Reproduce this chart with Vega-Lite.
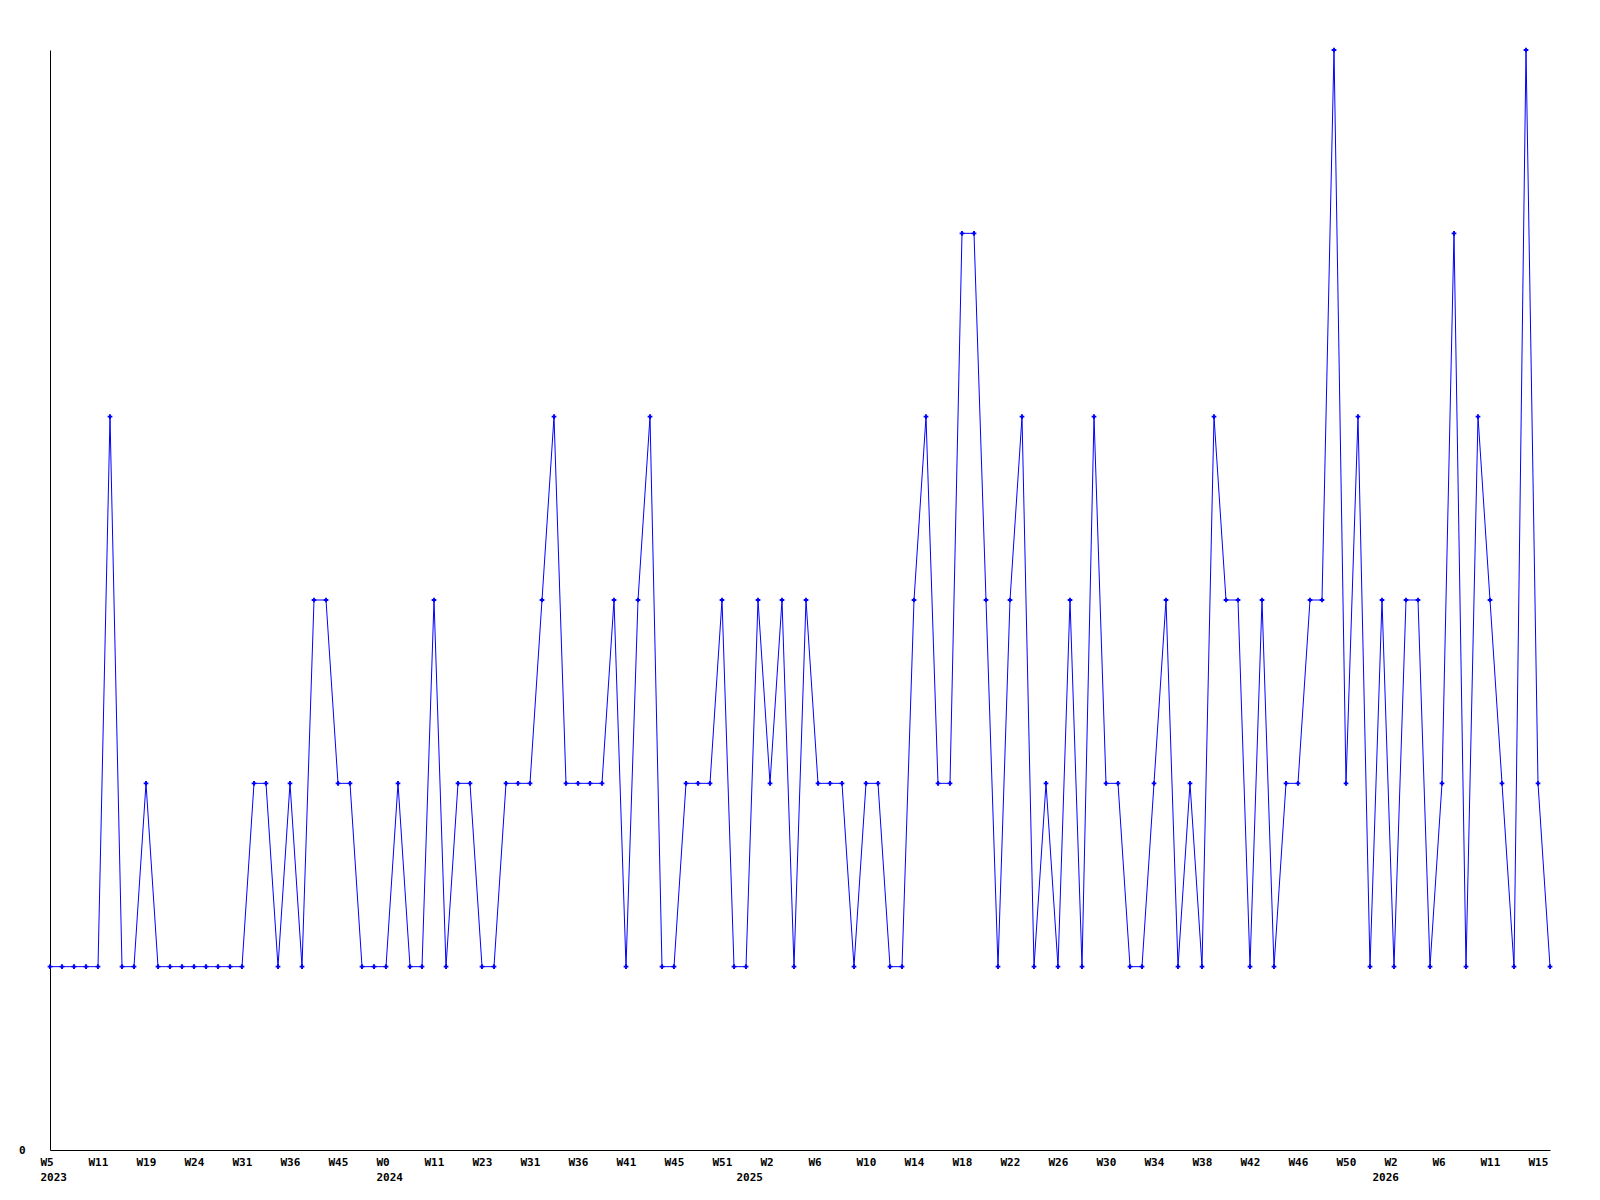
{
  "$schema": "https://vega.github.io/schema/vega-lite/v6.json",
  "autosize": {"type": "none"},
  "padding": {"left": 50, "top": 50, "right": 50, "bottom": 50},
  "width": 1500,
  "height": 1100,
  "background": "white",
  "config": {"view": {"stroke": null}},
  "data": {"values": [
    {"wk": "2023-W5", "n": 1}, {"wk": "2023-W6", "n": 1}, {"wk": "2023-W8", "n": 1}, {"wk": "2023-W9", "n": 1},
    {"wk": "2023-W11", "n": 1}, {"wk": "2023-W13", "n": 4}, {"wk": "2023-W15", "n": 1}, {"wk": "2023-W17", "n": 1},
    {"wk": "2023-W19", "n": 2}, {"wk": "2023-W20", "n": 1}, {"wk": "2023-W21", "n": 1}, {"wk": "2023-W22", "n": 1},
    {"wk": "2023-W24", "n": 1}, {"wk": "2023-W26", "n": 1}, {"wk": "2023-W28", "n": 1}, {"wk": "2023-W29", "n": 1},
    {"wk": "2023-W31", "n": 1}, {"wk": "2023-W32", "n": 2}, {"wk": "2023-W33", "n": 2}, {"wk": "2023-W34", "n": 1},
    {"wk": "2023-W36", "n": 2}, {"wk": "2023-W38", "n": 1}, {"wk": "2023-W40", "n": 3}, {"wk": "2023-W42", "n": 3},
    {"wk": "2023-W45", "n": 2}, {"wk": "2023-W47", "n": 2}, {"wk": "2023-W49", "n": 1}, {"wk": "2023-W51", "n": 1},
    {"wk": "2024-W0", "n": 1}, {"wk": "2024-W3", "n": 2}, {"wk": "2024-W6", "n": 1}, {"wk": "2024-W9", "n": 1},
    {"wk": "2024-W11", "n": 3}, {"wk": "2024-W14", "n": 1}, {"wk": "2024-W17", "n": 2}, {"wk": "2024-W20", "n": 2},
    {"wk": "2024-W23", "n": 1}, {"wk": "2024-W25", "n": 1}, {"wk": "2024-W27", "n": 2}, {"wk": "2024-W29", "n": 2},
    {"wk": "2024-W31", "n": 2}, {"wk": "2024-W32", "n": 3}, {"wk": "2024-W33", "n": 4}, {"wk": "2024-W35", "n": 2},
    {"wk": "2024-W36", "n": 2}, {"wk": "2024-W37", "n": 2}, {"wk": "2024-W38", "n": 2}, {"wk": "2024-W40", "n": 3},
    {"wk": "2024-W41", "n": 1}, {"wk": "2024-W42", "n": 3}, {"wk": "2024-W43", "n": 4}, {"wk": "2024-W44", "n": 1},
    {"wk": "2024-W45", "n": 1}, {"wk": "2024-W46", "n": 2}, {"wk": "2024-W48", "n": 2}, {"wk": "2024-W49", "n": 2},
    {"wk": "2024-W51", "n": 3}, {"wk": "2024-W52", "n": 1}, {"wk": "2025-W0", "n": 1}, {"wk": "2025-W1", "n": 3},
    {"wk": "2025-W2", "n": 2}, {"wk": "2025-W3", "n": 3}, {"wk": "2025-W4", "n": 1}, {"wk": "2025-W5", "n": 3},
    {"wk": "2025-W6", "n": 2}, {"wk": "2025-W7", "n": 2}, {"wk": "2025-W8", "n": 2}, {"wk": "2025-W9", "n": 1},
    {"wk": "2025-W10", "n": 2}, {"wk": "2025-W11", "n": 2}, {"wk": "2025-W12", "n": 1}, {"wk": "2025-W13", "n": 1},
    {"wk": "2025-W14", "n": 3}, {"wk": "2025-W15", "n": 4}, {"wk": "2025-W16", "n": 2}, {"wk": "2025-W17", "n": 2},
    {"wk": "2025-W18", "n": 5}, {"wk": "2025-W19", "n": 5}, {"wk": "2025-W20", "n": 3}, {"wk": "2025-W21", "n": 1},
    {"wk": "2025-W22", "n": 3}, {"wk": "2025-W23", "n": 4}, {"wk": "2025-W24", "n": 1}, {"wk": "2025-W25", "n": 2},
    {"wk": "2025-W26", "n": 1}, {"wk": "2025-W27", "n": 3}, {"wk": "2025-W28", "n": 1}, {"wk": "2025-W29", "n": 4},
    {"wk": "2025-W30", "n": 2}, {"wk": "2025-W31", "n": 2}, {"wk": "2025-W32", "n": 1}, {"wk": "2025-W33", "n": 1},
    {"wk": "2025-W34", "n": 2}, {"wk": "2025-W35", "n": 3}, {"wk": "2025-W36", "n": 1}, {"wk": "2025-W37", "n": 2},
    {"wk": "2025-W38", "n": 1}, {"wk": "2025-W39", "n": 4}, {"wk": "2025-W40", "n": 3}, {"wk": "2025-W41", "n": 3},
    {"wk": "2025-W42", "n": 1}, {"wk": "2025-W43", "n": 3}, {"wk": "2025-W44", "n": 1}, {"wk": "2025-W45", "n": 2},
    {"wk": "2025-W46", "n": 2}, {"wk": "2025-W47", "n": 3}, {"wk": "2025-W48", "n": 3}, {"wk": "2025-W49", "n": 6},
    {"wk": "2025-W50", "n": 2}, {"wk": "2025-W51", "n": 4}, {"wk": "2025-W52", "n": 1}, {"wk": "2026-W0", "n": 3},
    {"wk": "2026-W2", "n": 1}, {"wk": "2026-W3", "n": 3}, {"wk": "2026-W4", "n": 3}, {"wk": "2026-W5", "n": 1},
    {"wk": "2026-W6", "n": 2}, {"wk": "2026-W7", "n": 5}, {"wk": "2026-W9", "n": 1}, {"wk": "2026-W10", "n": 4},
    {"wk": "2026-W11", "n": 3}, {"wk": "2026-W12", "n": 2}, {"wk": "2026-W13", "n": 1}, {"wk": "2026-W14", "n": 6},
    {"wk": "2026-W15", "n": 2}, {"wk": "2026-W16", "n": 1}
  ]},
  "encoding": {
    "x": {
      "field": "wk", "type": "nominal", "sort": null,
      "scale": {"type": "point", "padding": 0},
      "axis": {
        "title": null,
        "values": ["2023-W5", "2023-W11", "2023-W19", "2023-W24", "2023-W31", "2023-W36", "2023-W45",
                   "2024-W0", "2024-W11", "2024-W23", "2024-W31", "2024-W36", "2024-W41", "2024-W45", "2024-W51",
                   "2025-W0", "2025-W2", "2025-W6", "2025-W10", "2025-W14", "2025-W18", "2025-W22", "2025-W26", "2025-W30",
                   "2025-W34", "2025-W38", "2025-W42", "2025-W46", "2025-W50",
                   "2026-W0", "2026-W2", "2026-W6", "2026-W11", "2026-W15"],
        "labelExpr": "indexof(['2023-W5','2024-W0'], datum.value) >= 0 ? [split(datum.value,'-')[1], split(datum.value,'-')[0]] : (indexof(['2025-W0','2026-W0'], datum.value) >= 0 ? ['', split(datum.value,'-')[0]] : split(datum.value,'-')[1])",
        "labelAngle": 0,
        "labelAlign": "left",
        "labelBaseline": "top",
        "labelOffset": -10,
        "labelPadding": 6,
        "labelLineHeight": 15,
        "labelFont": "DejaVu Sans Mono",
        "labelFontWeight": "bold",
        "labelFontSize": 11,
        "labelColor": "black",
        "labelOverlap": false,
        "labelBound": false,
        "labelFlush": false,
        "ticks": false,
        "grid": false,
        "domainColor": "black",
        "domainWidth": 1
      }
    },
    "y": {
      "field": "n", "type": "quantitative",
      "scale": {"domain": [0, 6], "nice": false, "zero": true},
      "axis": {
        "title": null,
        "values": [0],
        "ticks": false,
        "grid": false,
        "labelPadding": 25,
        "labelFont": "DejaVu Sans Mono",
        "labelFontWeight": "bold",
        "labelFontSize": 11,
        "labelColor": "black",
        "labelBaseline": "middle",
        "domainColor": "black",
        "domainWidth": 1
      }
    }
  },
  "layer": [
    {"mark": {"type": "line", "color": "#0000ff", "strokeWidth": 1, "interpolate": "linear"}},
    {"mark": {"type": "point", "shape": "cross", "filled": true, "size": 22, "color": "#0000ff", "opacity": 1}}
  ]
}
